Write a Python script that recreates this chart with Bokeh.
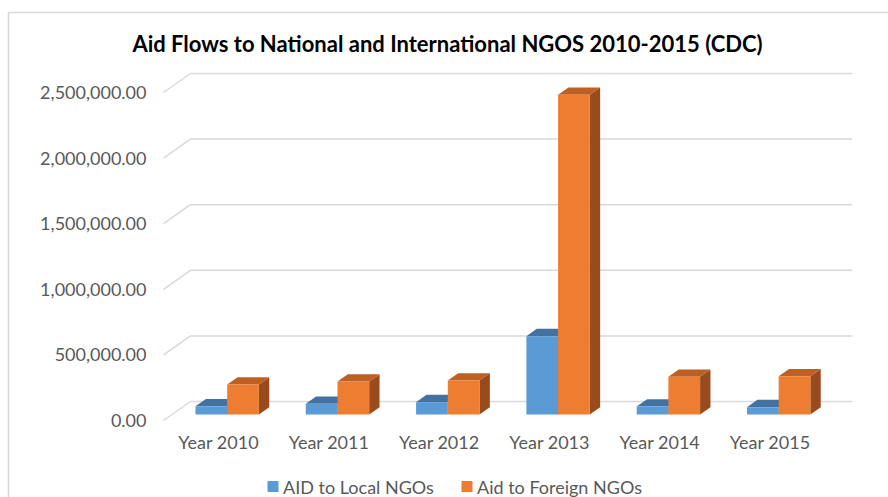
from bokeh.plotting import figure
from bokeh.models import Range1d
from bokeh.core.properties import value
from bokeh.embed import file_html
from bokeh.resources import INLINE

# ---- data ----
categories = ["Year 2010", "Year 2011", "Year 2012", "Year 2013", "Year 2014", "Year 2015"]
local_ngos = [63000, 82000, 94000, 597000, 61000, 56000]
foreign_ngos = [229000, 252000, 259000, 2437000, 287000, 292000]
y_ticks = [0, 500000, 1000000, 1500000, 2000000, 2500000]
series_names = ["AID to Local NGOs", "Aid to Foreign NGOs"]
title_text = "Aid Flows to National and International NGOS 2010-2015 (CDC)"

# ---- layout / style ----
W, H = 888, 497
ORIGIN_X, ORIGIN_Y = 163, 420               # canvas px of (x=0, value=0) on front plane
PX_X = 110.3                                # px per category
PX_Y = 131.2 / 1e6                          # px per value unit


def X(px):
    return (px - ORIGIN_X) / PX_X


def Y(py):
    return (ORIGIN_Y - py) / PX_Y


DX = 27 / PX_X                              # depth offset in data units
DY = 19 / PX_Y
F1, F2 = 0.316, 0.70                        # bar front/back depth fractions
BW = 31.7 / PX_X                            # bar width

FONT = "Lato"
GRAY = "#595959"
GRID = "#d9d9d9"
front_cols = ["#5B9BD5", "#ED7D31"]
top_cols = ["#4472A0", "#BE5F23"]
side_cols = ["#3A6690", "#9A4B1E"]

p = figure(width=W, height=H, output_backend="svg", toolbar_location=None,
           x_axis_type=None, y_axis_type=None, min_border=0,
           x_range=Range1d(X(0), X(W)), y_range=Range1d(Y(H), Y(0)))
p.outline_line_color = None
p.background_fill_color = "white"
p.border_fill_color = "white"

# chart border
p.line(x=[X(8), X(8), X(W + 5)], y=[Y(H + 5), Y(12), Y(12)], line_color=GRID, line_width=1.6)

# title
p.text(x=[X(447)], y=[Y(43)], text=[title_text], text_align="center",
       text_baseline="middle", text_font=value(FONT), text_font_style="bold",
       text_font_size=value("22px"), text_color="#000000")

# gridlines (front diagonal + back wall)
n = len(categories)
gx = [[0, DX, n + DX] for _ in y_ticks]
gy = [[v, v + DY, v + DY] for v in y_ticks]
p.multi_line(gx, gy, line_color=GRID, line_width=1.5)

# y tick labels
p.text(x=[X(146)] * len(y_ticks), y=y_ticks, text=[f"{v:,.2f}" for v in y_ticks],
       text_align="right", text_baseline="middle", text_font=value(FONT),
       text_font_size=value("18px"), text_color=GRAY)

# category labels
p.text(x=[i + 0.5 for i in range(n)], y=[Y(441)] * n, text=categories,
       text_align="center", text_baseline="middle", text_font=value(FONT),
       text_font_size=value("18px"), text_color=GRAY)

# bars
for s, vals in enumerate([local_ngos, foreign_ngos]):
    fx, fy, tx, ty, sx, sy = [], [], [], [], [], []
    for i, v in enumerate(vals):
        c = i + 0.5
        x0 = c - BW + s * BW
        x1 = x0 + BW
        ox1, oy1 = F1 * DX, F1 * DY
        ox2, oy2 = F2 * DX, F2 * DY
        fx.append([x0 + ox1, x1 + ox1, x1 + ox1, x0 + ox1])
        fy.append([oy1, oy1, oy1 + v, oy1 + v])
        tx.append([x0 + ox1, x1 + ox1, x1 + ox2, x0 + ox2])
        ty.append([oy1 + v, oy1 + v, oy2 + v, oy2 + v])
        sx.append([x1 + ox1, x1 + ox2, x1 + ox2, x1 + ox1])
        sy.append([oy1, oy2, oy2 + v, oy1 + v])
    p.patches(sx, sy, fill_color=side_cols[s], line_color=None)
    p.patches(tx, ty, fill_color=top_cols[s], line_color=None)
    p.patches(fx, fy, fill_color=front_cols[s], line_color=None)

# legend
leg_px = [272.5, 466.5]
leg_py = 486
p.rect(x=[X(px) for px in leg_px], y=[Y(leg_py)] * 2, width=11, height=11,
       width_units="screen", height_units="screen", fill_color=front_cols,
       line_color=None)
p.text(x=[X(px + 10) for px in leg_px], y=[Y(leg_py)] * 2, text=series_names,
       text_align="left", text_baseline="middle", text_font=value(FONT),
       text_font_size=value("18px"), text_color=GRAY)

open("out.html", "w").write(file_html(p, INLINE))
